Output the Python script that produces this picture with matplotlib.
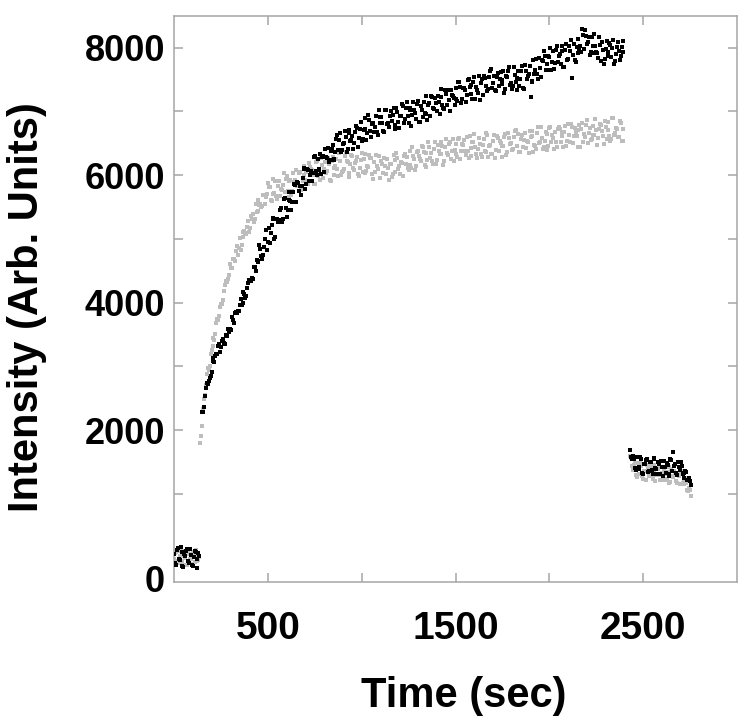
import numpy as np
import matplotlib
matplotlib.use("Agg")
import matplotlib.pyplot as plt

# ---------------- data ----------------
# Readings are listed on two interleaved time grids (a: every 10 s, b: offset 5 s)

# baseline before injection
t_base_a = list(range(0, 140, 10))
black_base_a = [60, -120, 150, -40, 90, -150, 20, 130, -80, 40, -130, 110, -20, 70]
gray_base_a = [-30, 80, -90, 30, -60, 100, 0, -110, 60, -20, 90, -70, 20, -40]
t_base_b = list(range(5, 140, 10))
black_base_b = [-90, 120, -30, 160, -140, 50, 100, -60, 140, -110, 10, 80, -160, 30]
gray_base_b = [70, -50, 110, -80, 20, -120, 60, 90, -30, -100, 40, 120, -60, 10]

# association phase
t_black_rise_a = list(range(150, 2400, 10))
black_rise_a = [
    2287, 2358, 2661, 2729, 2824, 2910, 3124, 3158, 3192, 3352,
    3296, 3426, 3349, 3480, 3583, 3583, 3770, 3677, 3855, 3866,
    3963, 3965, 4161, 4078, 4229, 4354, 4339, 4369, 4552, 4672,
    4630, 4840, 4685, 4875, 5145, 4950, 4940, 5210, 5315, 5025,
    5310, 5300, 5485, 5315, 5640, 5350, 5615, 5600, 5570, 5855,
    5580, 5870, 5835, 5825, 6090, 5780, 6090, 5900, 6065, 6035,
    6305, 5995, 6085, 6330, 6280, 6050, 6280, 6430, 6240, 6410,
    6240, 6370, 6630, 6550, 6370, 6485, 6685, 6360, 6660, 6535,
    6615, 6510, 6770, 6445, 6725, 6540, 6700, 6895, 6655, 6870,
    6605, 6815, 6750, 6680, 7015, 6905, 6820, 6670, 7020, 6810,
    6920, 6845, 7055, 6785, 6995, 6745, 6930, 7080, 6885, 7150,
    6815, 7060, 6945, 7015, 6880, 7165, 6830, 7025, 7140, 6955,
    6870, 7125, 7240, 7055, 7215, 7010, 7140, 7350, 7105, 7035,
    7265, 7340, 7010, 7260, 7215, 7370, 7165, 7460, 7135, 7370,
    7330, 7260, 7505, 7410, 7195, 7540, 7385, 7290, 7175, 7500,
    7550, 7395, 7315, 7540, 7660, 7440, 7335, 7535, 7395, 7615,
    7495, 7295, 7555, 7635, 7415, 7355, 7695, 7455, 7520, 7395,
    7630, 7365, 7720, 7515, 7590, 7230, 7460, 7580, 7820, 7500,
    7680, 7800, 7940, 7645, 7745, 7845, 7655, 7945, 7760, 8030,
    7865, 7735, 7945, 7700, 8050, 7825, 7950, 7520, 8050, 7780,
    8130, 7980, 7930, 8200, 8275, 8050, 8170, 7930, 8030, 8210,
    7930, 7830, 8040, 8085, 7745, 7985, 7925, 8065, 7845, 8125,
    7785, 8005, 7945, 7865, 8105,
]
t_black_rise_b = list(range(155, 2400, 10))
black_rise_b = [
    2287, 2537, 2731, 2772, 2853, 3085, 3069, 3189, 3313, 3229,
    3393, 3360, 3496, 3586, 3538, 3577, 3719, 3829, 3834, 3869,
    4050, 3991, 4142, 4104, 4305, 4343, 4381, 4551, 4500, 4653,
    4905, 4723, 4740, 4990, 4818, 5175, 5095, 5323, 5000, 5318,
    5265, 5453, 5260, 5618, 5485, 5453, 5728, 5455, 5733, 5838,
    5895, 5743, 5680, 5948, 6115, 5865, 6085, 6003, 5910, 6280,
    6070, 6260, 6088, 6015, 6295, 6415, 6275, 6205, 6375, 6475,
    6255, 6560, 6400, 6660, 6398, 6505, 6603, 6410, 6708, 6545,
    6403, 6670, 6738, 6575, 6833, 6560, 6718, 6555, 6943, 6688,
    6800, 6673, 6925, 6628, 6820, 6913, 6695, 7025, 6805, 6755,
    7003, 6950, 6730, 7060, 6840, 6928, 7115, 6813, 7058, 6923,
    7028, 6763, 7140, 6968, 7113, 6828, 7078, 6913, 6978, 7243,
    7098, 6933, 7228, 7035, 7133, 7235, 6965, 7218, 7050, 7340,
    7103, 7185, 7335, 7248, 7093, 7198, 7463, 7378, 7193, 7370,
    7145, 7493, 7378, 7273, 7468, 7193, 7328, 7553, 7448, 7255,
    7523, 7405, 7358, 7630, 7370, 7558, 7315, 7595, 7505, 7425,
    7635, 7355, 7535, 7695, 7445, 7395, 7575, 7338, 7638, 7513,
    7708, 7353, 7638, 7553, 7708, 7483, 7810, 7650, 7590, 7840,
    7540, 7790, 7873, 7645, 7865, 7990, 7780, 7663, 7955, 7778,
    7900, 8030, 7703, 7955, 7808, 8018, 8125, 7885, 7805, 8005,
    7915, 8025, 8295, 7978, 8183, 8080, 7880, 8170, 7910, 8030,
    7910, 8165, 7783, 7955, 7815, 8105, 7865, 8045, 7995, 7745,
    7905, 8085, 7805, 8015, 7935,
]

t_gray_rise_a = list(range(140, 2400, 10))
gray_rise_a = [
    1800, 2070, 2490, 2700, 2970, 3010, 3250, 3440, 3505, 3750,
    3790, 3980, 4035, 4275, 4330, 4370,
    4606, 4547, 4685, 4811, 4749,
    5018, 4910, 5107, 5088, 5184, 5100, 5359, 5383, 5311, 5414,
    5615, 5540, 5513, 5690, 5651, 5880, 5820, 5590, 5700, 5910,
    5620, 5910, 5780, 5850, 5740, 5990, 5660, 5930, 5745, 5895,
    6085, 5840, 6050, 5780, 5995, 5925, 5860, 6195, 6090, 6005,
    5860, 6215, 6010, 5920, 6165, 6090, 6035, 6265, 5930, 6215,
    6000, 6145, 6095, 6340, 6005, 6070, 6295, 6225, 5970, 6175,
    6300, 6080, 6220, 6015, 6110, 6350, 6245, 6040, 6135, 6310,
    6265, 5940, 6055, 6150, 6305, 5960, 6175, 6270, 6020, 6110,
    6180, 5970, 6315, 6045, 6275, 6145, 6210, 5980, 6330, 6280,
    6075, 6165, 6440, 6250, 6145, 6375, 6250, 6455, 6360, 6125,
    6230, 6435, 6345, 6170, 6515, 6240, 6385, 6330, 6455, 6225,
    6570, 6315, 6520, 6385, 6215, 6480, 6285, 6575, 6380, 6470,
    6375, 6605, 6265, 6425, 6525, 6645, 6325, 6405, 6485, 6285,
    6565, 6370, 6635, 6460, 6325, 6530, 6275, 6620, 6383, 6505,
    6450, 6595, 6320, 6665, 6490, 6395, 6598, 6700, 6463, 6367,
    6570, 6433, 6656, 6539, 6342, 6605, 6688, 6471, 6414, 6757,
    6520, 6583, 6446, 6669, 6392, 6735, 6520, 6585, 6670, 6435,
    6760, 6524, 6608, 6672, 6456, 6800, 6524, 6748, 6612, 6676,
    6440, 6785, 6730, 6515, 6598, 6861, 6664, 6547, 6770, 6633,
    6715, 6578, 6801, 6684, 6487, 6750, 6833, 6616, 6559, 6902,
    6665, 6729, 6592, 6816, 6540,
]
t_gray_rise_b = list(range(145, 2400, 10))
gray_rise_b = [
    1905, 2335, 2555, 2875, 2935, 3190, 3325, 3408, 3683, 3720,
    3930, 3978, 4185, 4343, 4365, 4425,
    4547, 4682, 4646, 4894, 4854,
    4820, 5033, 5128, 5082, 5286, 5170, 5311, 5263, 5543, 5431,
    5536, 5497, 5686, 5545, 5698, 5820, 5615, 5945, 5725, 5675,
    5825, 5665, 5765, 6025, 5935, 5745, 5915, 5688, 6040, 5930,
    5833, 6035, 5765, 5908, 6140, 6043, 5858, 6123, 6078, 5863,
    6198, 5983, 6075, 6263, 5958, 6203, 6070, 6178, 5913, 6288,
    6113, 6260, 5978, 6223, 6048, 6103, 6360, 6208, 6033, 6318,
    6110, 6190, 6278, 5993, 6230, 6048, 6323, 6068, 6133, 6268,
    6013, 6208, 6313, 6088, 5953, 6228, 6033, 6135, 6255, 5925,
    6175, 6023, 6230, 6340, 6100, 6018, 6195, 6305, 6175, 6118,
    6380, 6113, 6305, 6078, 6370, 6293, 6223, 6438, 6163, 6348,
    6513, 6270, 6228, 6413, 6178, 6473, 6338, 6523, 6160, 6438,
    6343, 6488, 6253, 6570, 6398, 6323, 6560, 6248, 6485, 6553,
    6320, 6385, 6615, 6295, 6525, 6445, 6265, 6575, 6335, 6475,
    6378, 6653, 6288, 6473, 6338, 6633, 6398, 6582, 6534, 6288,
    6453, 6638, 6363, 6578, 6503, 6417, 6699, 6462, 6645, 6369,
    6622, 6555, 6418, 6521, 6694, 6607, 6360, 6463, 6666, 6509,
    6752, 6415, 6538, 6651, 6464, 6748, 6623, 6408, 6523, 6728,
    6722, 6666, 6440, 6764, 6538, 6622, 6806, 6500, 6744, 6608,
    6713, 6448, 6823, 6647, 6790, 6503, 6746, 6569, 6622, 6874,
    6477, 6730, 6783, 6606, 6849, 6562, 6705, 6528, 6901, 6634,
    6737, 6601, 6844, 6538, 6722,
]

# wash phase
t_wash_a = list(range(2430, 2760, 10))
black_wash_a = [
    1680, 1540, 1540, 1370, 1580, 1395, 1540, 1315, 1460, 1550,
    1360, 1495, 1310, 1555, 1385, 1500, 1310, 1415, 1515, 1320,
    1455, 1275, 1525, 1650, 1470, 1295, 1420, 1500, 1310, 1330,
    1340, 1220, 1200,
]
gray_wash_a = [
    1600, 1440, 1450, 1290, 1480, 1315, 1440, 1235, 1360, 1445,
    1275, 1390, 1230, 1450, 1300, 1390, 1215, 1320, 1395, 1220,
    1335, 1175, 1390, 1265, 1330, 1175, 1282, 1360, 1170, 1150,
    1170, 1040, 1060,
]
t_wash_b = list(range(2435, 2760, 10))
black_wash_b = [
    1575, 1590, 1405, 1575, 1418, 1583, 1328, 1463, 1530, 1338,
    1503, 1370, 1548, 1405, 1313, 1470, 1518, 1285, 1413, 1490,
    1318, 1545, 1353, 1430, 1328, 1503, 1378, 1438, 1255, 1360,
    1215, 1245, 1140,
]
gray_wash_b = [
    1560, 1380, 1485, 1265, 1398, 1483, 1278, 1363, 1218, 1413,
    1438, 1293, 1378, 1203, 1398, 1293, 1418, 1213, 1318, 1233,
    1418, 1183, 1278, 1363, 1198, 1304, 1151, 1305, 1180, 1245,
    1065, 1085, 970,
]

x_ticks = [500, 1000, 1500, 2000, 2500]
x_labels = ["500", "", "1500", "", "2500"]
y_ticks = [1000, 2000, 3000, 4000, 5000, 6000, 7000, 8000]
y_labels = ["", "2000", "", "4000", "", "6000", "", "8000"]

# ---------------- figure ----------------
FONT = "Liberation Sans"
fig = plt.figure(figsize=(7.56, 7.28), dpi=100)
ax = fig.add_axes([0.2302, 0.2005, 0.7447, 0.7779])

gray_c = "#bdbdbd"
black_c = "#000000"
ms = 5

gray_sets = [(t_base_a, gray_base_a), (t_base_b, gray_base_b),
             (t_gray_rise_a, gray_rise_a), (t_gray_rise_b, gray_rise_b),
             (t_wash_a, gray_wash_a), (t_wash_b, gray_wash_b)]
black_sets = [(t_base_a, black_base_a), (t_base_b, black_base_b),
              (t_black_rise_a, black_rise_a), (t_black_rise_b, black_rise_b),
              (t_wash_a, black_wash_a), (t_wash_b, black_wash_b)]
for tt, vv in gray_sets:
    ax.scatter(tt, vv, s=ms, c=gray_c, marker="s", linewidths=0, zorder=2)
for tt, vv in black_sets:
    ax.scatter(tt, vv, s=ms, c=black_c, marker="s", linewidths=0, zorder=3)

ax.set_xlim(0, 3000)
ax.set_ylim(-384, 8500)

ax.set_xticks(x_ticks)
ax.set_xticklabels(x_labels)
ax.set_yticks(y_ticks)
ax.set_yticklabels(y_labels)

spine_c = "#a6a6a6"
for s in ax.spines.values():
    s.set_color(spine_c)
    s.set_linewidth(1.1)

ax.tick_params(which="both", direction="in", top=True, right=True,
               length=6.5, width=1.1, color=spine_c)
ax.tick_params(axis="x", labelsize=28, pad=21)
ax.tick_params(axis="y", labelsize=26, pad=6.5)
for lab in ax.get_xticklabels() + ax.get_yticklabels():
    lab.set_fontfamily(FONT)
    lab.set_fontweight("bold")

# "0" label at the bottom of the value axis
ax.text(-0.016, 0.0, "0", transform=ax.transAxes, ha="right", va="center",
        fontsize=26, fontweight="bold", fontfamily=FONT)

ax.set_xlabel("Time (sec)", fontsize=30, fontweight="bold", fontfamily=FONT)
ax.xaxis.label.set_va("center")
ax.xaxis.set_label_coords(0.515, -0.202)
ax.set_ylabel("Intensity (Arb. Units)", fontsize=30, fontweight="bold", fontfamily=FONT)
ax.yaxis.label.set_va("center")
ax.yaxis.set_label_coords(-0.261, 0.4847)

fig.savefig("out.png", dpi=100)
